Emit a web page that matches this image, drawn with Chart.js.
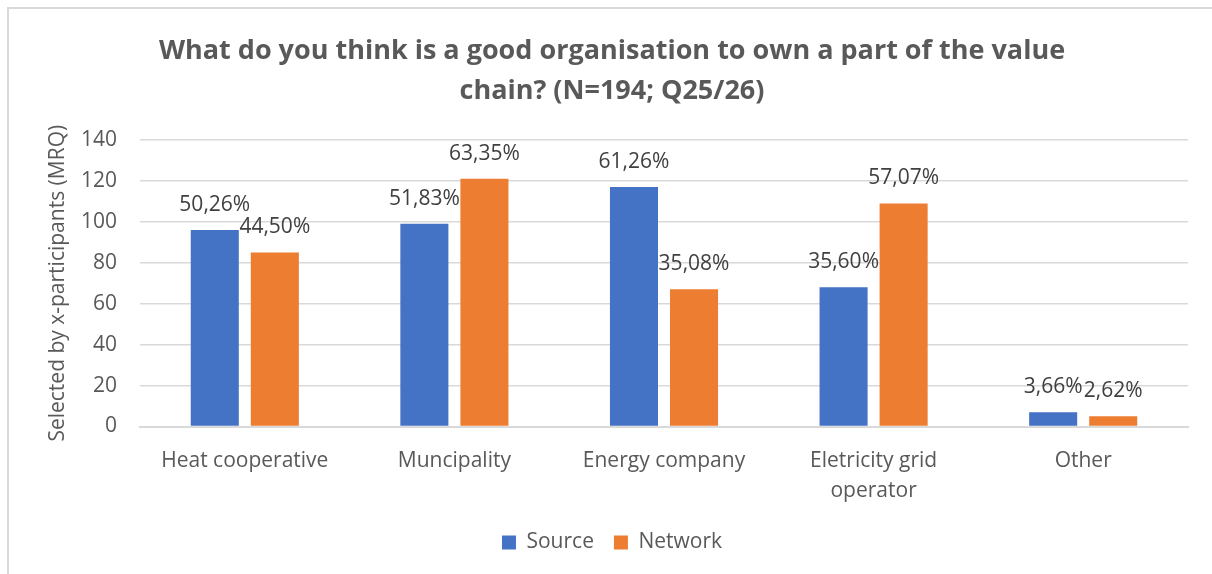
<!DOCTYPE html>
<html>
<head>
<meta charset="utf-8">
<script src="https://cdn.jsdelivr.net/npm/chart.js@4"></script>
<style>
    html, body { margin: 0; padding: 0; background: #fff; overflow: hidden; }
    #wrap { position: relative; width: 1212px; height: 574px; }
    #frame {
        position: absolute; left: 7px; top: 7px; width: 1400px; height: 800px;
        border-left: 2px solid #d9d9d9; border-top: 2px solid #d9d9d9;
    }
    #chart { position: absolute; left: 0; top: 0; }
</style>
</head>
<body>
<div id="wrap">
    <div id="frame"></div>
    <canvas id="chart" width="1212" height="574"></canvas>
</div>
<script>
// Survey answers: organisations, participant counts and shares per series
const categories = ['Heat cooperative', 'Muncipality', 'Energy company', ['Eletricity grid', 'operator'], 'Other'];
const sourceCounts = [96, 99, 117, 68, 7];
const networkCounts = [85, 121, 67, 109, 5];
const sourceShares = ['50,26%', '51,83%', '61,26%', '35,60%', '3,66%'];
const networkShares = ['44,50%', '63,35%', '35,08%', '57,07%', '2,62%'];
const yTicks = [0, 20, 40, 60, 80, 100, 120, 140];

const TEXT = '#595959';
const GRID = '#d9d9d9';

Chart.defaults.font.family = "'Open Sans', sans-serif";
Chart.defaults.color = TEXT;

// Percentage labels above each bar
const shareLabels = {
    id: 'shareLabels',
    afterDatasetsDraw(chart) {
        const ctx = chart.ctx;
        const texts = [sourceShares, networkShares];
        ctx.save();
        ctx.font = "21px 'Open Sans', sans-serif";
        ctx.fillStyle = '#404040';
        ctx.textAlign = 'center';
        ctx.textBaseline = 'middle';
        chart.data.datasets.forEach((ds, i) => {
            chart.getDatasetMeta(i).data.forEach((bar, j) => {
                ctx.fillText(texts[i][j], bar.x, bar.y - 25);
            });
        });
        ctx.restore();
    }
};

new Chart(document.getElementById('chart'), {
    type: 'bar',
    data: {
        labels: categories,
        datasets: [
            { label: 'Source', data: sourceCounts, backgroundColor: '#4472C4' },
            { label: 'Network', data: networkCounts, backgroundColor: '#ED7D31' }
        ]
    },
    options: {
        responsive: false,
        animation: false,
        layout: { padding: { left: 36, right: 24, top: 0, bottom: 11 } },
        datasets: { bar: { categoryPercentage: 0.573, barPercentage: 0.8 } },
        plugins: {
            title: {
                display: true,
                text: ['What do you think is a good organisation to own a part of the value', 'chain? (N=194; Q25/26)'],
                color: TEXT,
                font: { size: 27, weight: 'bold', lineHeight: 1.48 },
                padding: { top: 31, bottom: 29 }
            },
            legend: {
                position: 'bottom',
                labels: {
                    boxWidth: 14, boxHeight: 14, padding: 20,
                    color: TEXT, font: { size: 21 }
                }
            },
            tooltip: { enabled: false }
        },
        scales: {
            x: {
                grid: { display: false },
                border: { display: true, color: GRID, width: 2 },
                ticks: { color: TEXT, font: { size: 21, lineHeight: 1.4 }, padding: 12, maxRotation: 0, autoSkip: false },
                afterFit(scale) { scale.height = 85.5; }
            },
            y: {
                min: 0, max: 140,
                afterBuildTicks(scale) { scale.ticks = yTicks.map(v => ({ value: v })); },
                grid: { color: GRID, lineWidth: 1.5, drawTicks: false },
                border: { display: false },
                ticks: { color: TEXT, font: { size: 21 }, padding: 23 },
                title: {
                    display: true,
                    text: 'Selected by x-participants (MRQ)',
                    color: TEXT,
                    font: { size: 21 },
                    padding: { top: 9, bottom: 0 }
                },
                afterFit(scale) { scale.width = 104; }
            }
        }
    },
    plugins: [shareLabels]
});
</script>
</body>
</html>
